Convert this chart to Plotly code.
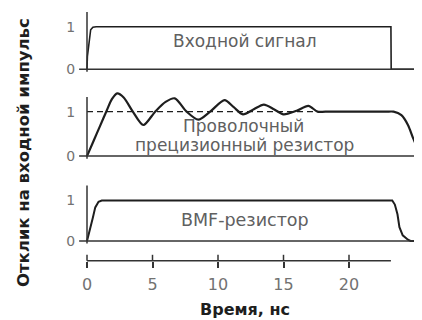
import plotly.graph_objects as go

# ---------------- data ----------------
INPUT_T = [0, 0.03, 0.28, 0.45, 0.7, 23.2, 23.22, 25.6]
INPUT_V = [0, 0.30, 0.93, 0.99, 1.0, 1.0, 0.0, 0.0]

WIRE_T = [0, 0.5, 1.0, 1.5, 1.9, 2.3, 2.8, 3.5, 4.3, 5.2, 6.0, 6.7, 7.6, 8.5,
          9.4, 10.5, 11.2, 11.9, 12.7, 13.5, 14.3, 15.0, 16.0, 16.9, 17.6,
          18.2, 22.8, 23.4, 24.0, 24.5, 24.9, 25.3, 25.6]
WIRE_V = [0, 0.34, 0.68, 1.02, 1.28, 1.41, 1.32, 1.0, 0.70, 1.0, 1.22, 1.30,
          1.0, 0.82, 1.0, 1.26, 1.10, 0.94, 1.05, 1.16, 1.05, 0.94, 1.02, 1.13,
          1.0, 1.0, 1.0, 1.0, 0.92, 0.70, 0.40, 0.14, 0.03]

BMF_T = [0, 0.25, 0.45, 0.63, 0.88, 1.13, 1.5, 23.3, 23.5, 23.7, 23.85, 24.1,
         24.5, 24.7, 25.6]
BMF_V = [0, 0.30, 0.58, 0.83, 0.97, 1.0, 1.0, 1.0, 0.90, 0.66, 0.34, 0.14,
         0.03, 0.0, 0.0]

REF_T = [0, 17.6]
REF_V = [1, 1]

X_TICKS = [0, 5, 10, 15, 20]
X_TICK_TEXT = ["0", "5", "10", "15", "20"]
Y_TICKS = [0, 1]
Y_TICK_TEXT = ["0", "1"]

LABEL_INPUT = "Входной сигнал"
LABEL_WIRE_1 = "Проволочный"
LABEL_WIRE_2 = "прецизионный резистор"
LABEL_BMF = "BMF-резистор"
Y_TITLE = "Отклик на входной импульс"
X_TITLE = "Время, нс"

# ---------------- layout helpers ----------------
OFF = 8                      # page body margin
SW, SH = 422, 320            # screen size
W, H = SW - OFF, SH - OFF    # figure size
X0PX, PX_PER_NS = 87, 13.1   # screen x of t=0, pixels per ns
XR = [-(X0PX - OFF) / PX_PER_NS, (SW - X0PX) / PX_PER_NS]
AXIS_END = 23.2
XAXIS_PX = 264


def py(spx):   # screen y -> paper y
    return min(1.0, max(0.0, 1 - (spx - OFF) / H))


def pxp(spx):  # screen x -> paper x
    return (spx - OFF) / W


def ydomain(y0px, y1px, vmin, vmax):
    ppu = y0px - y1px
    top = y0px - vmax * ppu
    bot = y0px - vmin * ppu
    return [py(bot), py(top)]


PANELS = [  # (screen y of 0, screen y of 1, vmin, vmax, axis_top)
    (70, 27, -0.2, 1.4, 1.35),
    (158, 113, -0.1, 1.5, 1.33),
    (244, 203, -0.1, 1.5, 1.37),
]

FONT = "DejaVu Sans, Verdana, sans-serif"
DARK = "#1e1e1e"
GRAY = "#606060"
TICKC = "#727272"

fig = go.Figure()
fig.add_trace(go.Scatter(x=INPUT_T, y=INPUT_V, xaxis="x", yaxis="y",
                         mode="lines", line=dict(color=DARK, width=1.6)))
fig.add_trace(go.Scatter(x=REF_T, y=REF_V, xaxis="x", yaxis="y2", mode="lines",
                         line=dict(color=DARK, width=1.3, dash="6px,4px")))
fig.add_trace(go.Scatter(x=WIRE_T, y=WIRE_V, xaxis="x", yaxis="y2",
                         mode="lines", line=dict(color=DARK, width=2.2,
                                                 shape="spline", smoothing=0.8)))
fig.add_trace(go.Scatter(x=BMF_T, y=BMF_V, xaxis="x", yaxis="y3",
                         mode="lines", line=dict(color=DARK, width=2)))

layout = dict(
    width=W, height=H, margin=dict(l=0, r=0, t=0, b=0),
    paper_bgcolor="white", plot_bgcolor="white", showlegend=False,
    font=dict(family=FONT),
    xaxis=dict(domain=[0, 1], range=XR, anchor="free",
               position=py(XAXIS_PX), showgrid=False, zeroline=False,
               showline=False, tickvals=X_TICKS, ticktext=X_TICK_TEXT,
               ticks="outside", ticklen=6, tickwidth=1.5, tickcolor="#333",
               tickfont=dict(size=16, color=TICKC, family=FONT),
               ticklabelstandoff=3),
)
shapes = []
names = ["y", "y2", "y3"]
for i, (y0px, y1px, vmin, vmax, top) in enumerate(PANELS):
    key = "yaxis" if i == 0 else f"yaxis{i+1}"
    layout[key] = dict(domain=ydomain(y0px, y1px, vmin, vmax), range=[vmin, vmax],
                       anchor="free", position=pxp(X0PX), showgrid=False,
                       zeroline=False, showline=False, tickvals=Y_TICKS,
                       ticktext=Y_TICK_TEXT, ticks="outside", ticklen=9,
                       tickcolor="rgba(0,0,0,0)",
                       tickfont=dict(size=14, color=TICKC, family=FONT))
    shapes.append(dict(type="line", xref="x", yref=names[i], x0=0, x1=0,
                       y0=-0.06, y1=top, line=dict(color="#333", width=1.5)))
    shapes.append(dict(type="line", xref="x", yref=names[i], x0=-0.6, x1=XR[1],
                       y0=0, y1=0, line=dict(color="#333", width=1.5)))

ypos = py(XAXIS_PX)
shapes.append(dict(type="line", xref="x", yref="paper", x0=0, x1=AXIS_END,
                   y0=ypos, y1=ypos, line=dict(color="#333", width=1.5)))
for tv in X_TICKS:
    shapes.append(dict(type="line", xref="x", yref="paper", x0=tv, x1=tv,
                       y0=ypos, y1=ypos + 6 / H, line=dict(color="#333", width=1.5)))
layout["shapes"] = shapes


def label(text, sx, sy, size, color, bold=False, angle=0):
    return dict(text=f"<b>{text}</b>" if bold else text, x=pxp(sx), y=py(sy),
                xref="paper", yref="paper", xanchor="center", yanchor="middle",
                showarrow=False, textangle=angle,
                font=dict(size=size, color=color, family=FONT))


layout["annotations"] = [
    label(LABEL_INPUT, 245, 41, 17, GRAY),
    label(LABEL_WIRE_1, 243, 128, 17, GRAY),
    label(LABEL_WIRE_2, 244, 147, 17, GRAY),
    label(LABEL_BMF, 245, 223, 17.5, GRAY),
    label(Y_TITLE, 23, 155, 16.5, DARK, bold=True, angle=-90),
    label(X_TITLE, 245, 313, 16, DARK, bold=True),
]
fig.update_layout(**layout)
fig.write_html("out.html")
